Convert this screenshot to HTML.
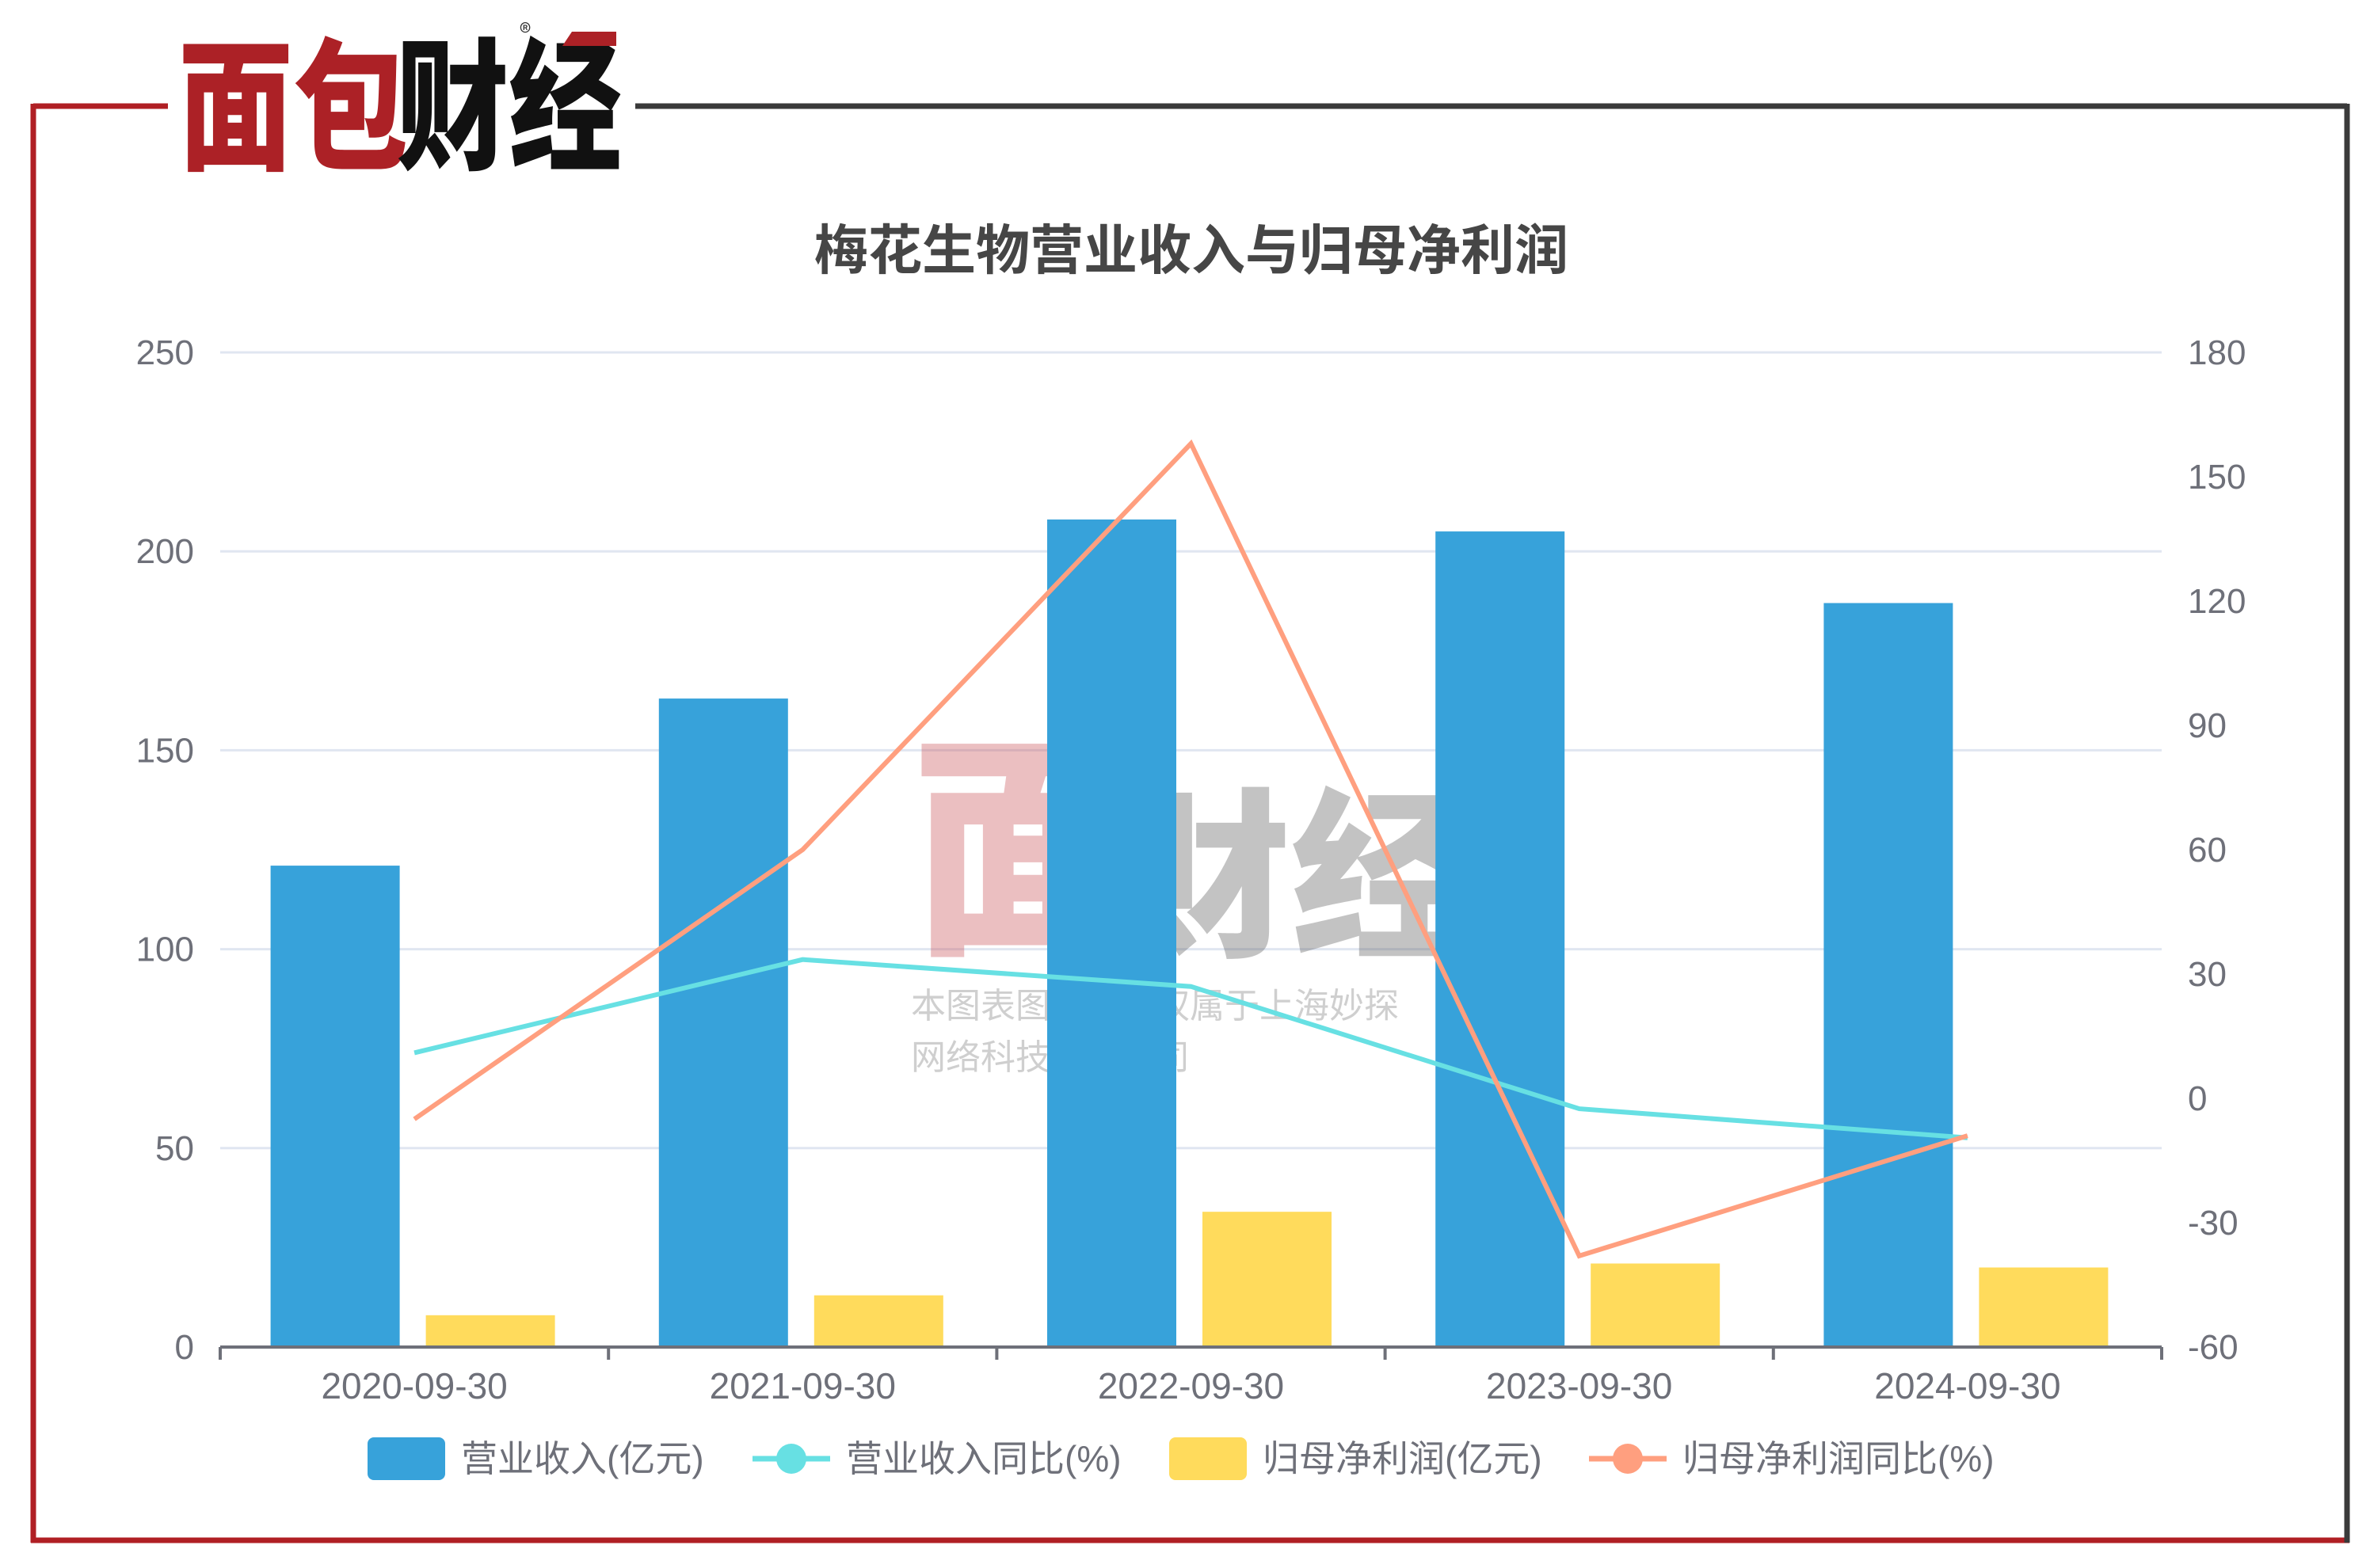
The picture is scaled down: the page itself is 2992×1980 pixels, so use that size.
<!DOCTYPE html>
<html><head><meta charset="utf-8"><style>
html,body{margin:0;padding:0;background:#fff;}
body{width:2992px;height:1980px;position:relative;overflow:hidden;font-family:"Liberation Sans","Noto Sans CJK SC",sans-serif;}
</style></head><body>
<svg id="chart" width="2992" height="1980" xmlns="http://www.w3.org/2000/svg" style="position:absolute;left:0;top:0">
<g>
<line x1="42" y1="134" x2="212" y2="134" stroke="#b01f24" stroke-width="7"/>
<line x1="42" y1="131" x2="42" y2="1948" stroke="#b01f24" stroke-width="7"/>
<line x1="39" y1="1945" x2="2966" y2="1945" stroke="#b01f24" stroke-width="7"/>
<line x1="802" y1="134" x2="2963" y2="134" stroke="#3a3a3a" stroke-width="7"/>
<line x1="2963" y1="131" x2="2963" y2="1948" stroke="#3a3a3a" stroke-width="7"/>
</g>
<g font-family="'Noto Sans CJK SC',sans-serif" font-weight="900" font-size="180">
<text x="225" y="200" fill="#ac2126" textLength="290" lengthAdjust="spacingAndGlyphs">面包</text>
<text x="500" y="200" fill="#111" textLength="285" lengthAdjust="spacingAndGlyphs">财经</text>
<text x="656" y="52" font-size="30" font-weight="400" fill="#333">®</text>
<polygon points="722,40 778,40 778,58 710,58" fill="#ac2126"/>
</g>
<text x="1504" y="340" text-anchor="middle" font-size="68" font-weight="bold" fill="#464646" font-family="'Liberation Sans','Noto Sans CJK SC',sans-serif">梅花生物营业收入与归母净利润</text>
<g id="grid"></g>
<g opacity="0.35">
<text x="1150" y="1180" font-size="300" font-weight="900" fill="#c84a50" font-family="'Noto Sans CJK SC',sans-serif">面</text>
<text x="1400" y="1190" font-size="230" font-weight="900" fill="#555" font-family="'Noto Sans CJK SC',sans-serif">财经</text>
<text x="1150" y="1285" font-size="44" fill="#777" font-family="'Noto Sans CJK SC',sans-serif">本图表图片著作权属于上海妙探</text>
<text x="1150" y="1350" font-size="44" fill="#777" font-family="'Noto Sans CJK SC',sans-serif">网络科技有限公司</text>
</g>
<g id="bars"></g>
<g id="lines"></g>
<g id="axes"></g>
<g id="legend"></g>
</svg>
<script>
const categories = ["2020-09-30","2021-09-30","2022-09-30","2023-09-30","2024-09-30"];
const revenue = [121, 163, 208, 205, 187];
const profit = [8, 13, 34, 21, 20];
const revenueYoy = [11, 33.5, 27, -2.5, -9.5];
const profitYoy = [-5, 60, 158, -38, -9];
const leftTicks = [0,50,100,150,200,250];
const rightTicks = [-60,-30,0,30,60,90,120,150,180];

const NS="http://www.w3.org/2000/svg";
const X0=278, X1=2729, Y0=1701, Y1=445;
const bandW=(X1-X0)/categories.length;
const yL=v=>Y0-(v-0)/(250-0)*(Y0-Y1);
const yR=v=>Y0-(v+60)/(240)*(Y0-Y1);
const xC=i=>X0+bandW*(i+0.5);
function mk(tag,attrs,parent){const e=document.createElementNS(NS,tag);for(const k in attrs)e.setAttribute(k,attrs[k]);parent.appendChild(e);return e;}
const grid=document.getElementById('grid'),bars=document.getElementById('bars'),lines=document.getElementById('lines'),axes=document.getElementById('axes'),legend=document.getElementById('legend');
const font="'Liberation Sans','Noto Sans CJK SC',sans-serif";
leftTicks.forEach(t=>{
  if(t>0){const g=mk('line',{x1:X0,x2:X1,y1:yL(t),y2:yL(t),stroke:'#e0e6f1','stroke-width':3},grid);
  
  }
  const tx=mk('text',{x:245,y:yL(t)+15,'text-anchor':'end','font-size':44,fill:'#6e7079','font-family':font},axes);
  tx.textContent=t;
  
  
});
rightTicks.forEach(t=>{
  const tx=mk('text',{x:2762,y:yR(t)+15,'font-size':44,fill:'#6e7079','font-family':font},axes);
  tx.textContent=t;
  
  
});
const bw=163;
categories.forEach((c,i)=>{
  const b1=mk('rect',{x:xC(i)-100-bw/2,y:yL(revenue[i]),width:bw,height:Y0-yL(revenue[i]),fill:'#37a2da'},bars);
  
  
  const b2=mk('rect',{x:xC(i)+96-bw/2,y:yL(profit[i]),width:bw,height:Y0-yL(profit[i]),fill:'#ffdb5c'},bars);
  
  
  const tx=mk('text',{x:xC(i),y:1766,'text-anchor':'middle','font-size':46,fill:'#6e7079','font-family':font},axes);
  tx.textContent=c;
  
  
});
const ax=mk('line',{x1:X0,x2:X1,y1:Y0,y2:Y0,stroke:'#6e7079','stroke-width':4},axes);


for(let i=0;i<=categories.length;i++){
  const t=mk('line',{x1:X0+bandW*i,x2:X0+bandW*i,y1:Y0,y2:Y0+16,stroke:'#6e7079','stroke-width':4},axes);
  
  
}
const p1=mk('polyline',{points:revenueYoy.map((v,i)=>xC(i)+','+yR(v)).join(' '),fill:'none',stroke:'#67e0e3','stroke-width':6},lines);


const p2=mk('polyline',{points:profitYoy.map((v,i)=>xC(i)+','+yR(v)).join(' '),fill:'none',stroke:'#ff9f7f','stroke-width':6},lines);


// legend
const items=[["营业收入(亿元)","bar","#37a2da",464],["营业收入同比(%)","line","#67e0e3",950],["归母净利润(亿元)","bar","#ffdb5c",1476],["归母净利润同比(%)","line","#ff9f7f",2006]];
items.forEach(it=>{
  const g=mk('g',{},legend);
  
  
  const x=it[3], y=1842;
  if(it[1]==='bar'){mk('rect',{x:x,y:y-27,width:98,height:54,rx:8,fill:it[2]},g);}
  else{mk('line',{x1:x,x2:x+98,y1:y,y2:y,stroke:it[2],'stroke-width':7},g);mk('circle',{cx:x+49,cy:y,r:19,fill:it[2]},g);}
  const t=mk('text',{x:x+118,y:y+16,'font-size':46,fill:'#6e7079','font-family':font},g);
  t.textContent=it[0];
});
</script>
</body></html>
